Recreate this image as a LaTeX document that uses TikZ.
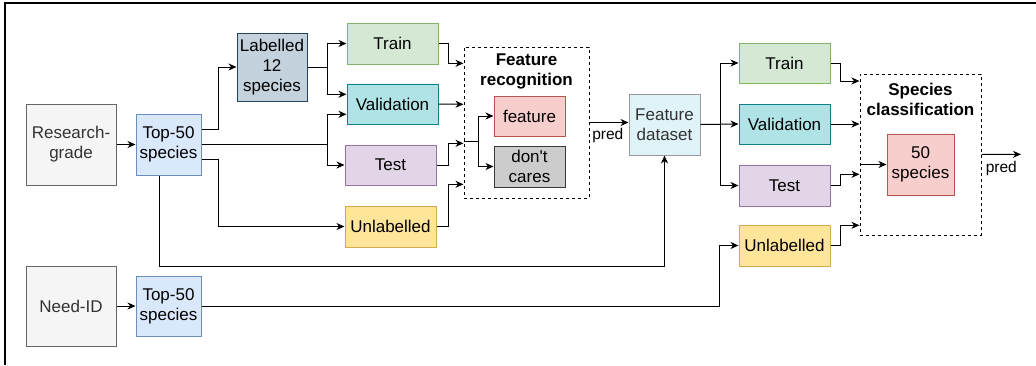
\documentclass[tikz,border=0pt]{standalone}
\usepackage{fontspec}
\setmainfont{Liberation Sans}[Ligatures=TeXOff]
\usetikzlibrary{arrows.meta,calc}
\definecolor{grayF}{HTML}{F5F5F5}\definecolor{grayD}{HTML}{666666}
\definecolor{blueF}{HTML}{DAE8FC}\definecolor{blueD}{HTML}{6C8EBF}
\definecolor{labF}{HTML}{C4D2DE}\definecolor{labD}{HTML}{23445D}
\definecolor{trF}{HTML}{D5E8D4}\definecolor{trD}{HTML}{82B366}
\definecolor{vaF}{HTML}{B0E3E6}\definecolor{vaD}{HTML}{0E8088}
\definecolor{teF}{HTML}{E1D5E7}\definecolor{teD}{HTML}{9673A6}
\definecolor{unF}{HTML}{FFE599}\definecolor{unD}{HTML}{D6AA50}
\definecolor{feF}{HTML}{F8CECC}\definecolor{feD}{HTML}{B85450}
\definecolor{dcF}{HTML}{CCCCCC}\definecolor{dcD}{HTML}{36393D}
\definecolor{fdF}{HTML}{DFF3F8}\definecolor{fdD}{HTML}{999999}
\definecolor{txtG}{HTML}{333333}
\begin{document}
\begin{tikzpicture}[x=1pt,y=-1pt,
  box/.style={draw,line width=1pt,align=center,inner sep=1pt,
    font=\fontsize{17}{20}\selectfont},
  gbox/.style={box,fill=grayF,draw=grayD,text=txtG},
  bbox/.style={box,fill=blueF,draw=blueD},
  lbox/.style={box,fill=labF,draw=labD},
  trbox/.style={box,fill=trF,draw=trD},
  vabox/.style={box,fill=vaF,draw=vaD},
  tebox/.style={box,fill=teF,draw=teD},
  unbox/.style={box,fill=unF,draw=unD},
  febox/.style={box,fill=feF,draw=feD},
  dcbox/.style={box,fill=dcF,draw=dcD},
  fdbox/.style={box,fill=fdF,draw=fdD,text=txtG},
  group/.style={draw,dashed,dash pattern=on 3pt off 3pt,line width=1pt},
  ttl/.style={font=\fontsize{17}{20}\selectfont\bfseries,align=center,inner sep=0pt},
  arr/.style={draw,line width=1pt,-{Stealth[length=8pt,width=7pt,inset=2.5pt]}},
  lbl/.style={font=\fontsize{15.5}{18}\selectfont,inner sep=0pt}
]
\useasboundingbox (0,0) rectangle (1036,365);
\draw[line width=1.5pt] (5,365) -- (5,3) -- (1036,3);

% left column
\node[gbox,minimum width=90pt,minimum height=81pt] (rg) at (71,144.5) {Research-\\grade};
\node[bbox,minimum width=65pt,minimum height=61pt] (top1) at (168.5,144.5) {Top-50\\species};
\node[lbox,minimum width=70pt,minimum height=68pt] (lab) at (272,67) {Labelled\\12\\species};
\node[gbox,minimum width=90pt,minimum height=80pt] (nid) at (71,306) {Need-ID};
\node[bbox,minimum width=65pt,minimum height=60pt] (top2) at (168.5,306) {Top-50\\species};

% first split
\node[trbox,minimum width=91pt,minimum height=41pt] (tr1) at (392.5,43.5) {Train};
\node[vabox,minimum width=91pt,minimum height=40pt] (va1) at (392.5,104) {Validation};
\node[tebox,minimum width=91pt,minimum height=40pt] (te1) at (390.5,165) {Test};
\node[unbox,minimum width=91pt,minimum height=41pt] (un1) at (390.5,226.5) {Unlabelled};

% feature recognition group
\node[group,minimum width=125pt,minimum height=151pt] (fr) at (526.5,122.5) {};
\node[ttl] (frt) at (526.5,71) {Feature\\recognition};
\node[febox,minimum width=71pt,minimum height=40pt] (fe) at (529.5,116) {feature};
\node[dcbox,minimum width=71pt,minimum height=41pt] (dc) at (529.5,166.5) {don't\\cares};

\node[fdbox,minimum width=71pt,minimum height=61pt] (fd) at (664.5,124.5) {Feature\\dataset};

% second split
\node[trbox,minimum width=91pt,minimum height=40pt] (tr2) at (784.5,63) {Train};
\node[vabox,minimum width=91pt,minimum height=40pt] (va2) at (784.5,124) {Validation};
\node[tebox,minimum width=91pt,minimum height=41pt] (te2) at (784.5,185.5) {Test};
\node[unbox,minimum width=91pt,minimum height=41pt] (un2) at (784.5,245.5) {Unlabelled};

\node[group,minimum width=121pt,minimum height=161pt] (sc) at (920.5,154.5) {};
\node[ttl] (sct) at (920.5,99) {Species\\classification};
\node[febox,minimum width=67pt,minimum height=61pt] (s50) at (920.5,164.5) {50\\species};
\coordinate (out) at (1021,154.3);

% connectors
\draw[arr] (rg) -- (top1);
\draw[arr] (nid) -- (top2);
\draw[arr] ([yshift=15.5pt]top1.east) -- ++(16.7,0) |- (lab.west);
\draw[arr] (lab.east) -- ++(20.3,0) |- (tr1.west);
\draw[arr] (lab.east) -- ++(20.3,0) |- ([yshift=9.7pt]va1.west);
\draw[arr] (top1.east) -- ++(126.3,0) |- ([yshift=-10.3pt]va1.west);
\draw[arr] (top1.east) -- ++(126.3,0) |- (te1.west);
\draw[arr] ([yshift=-15pt]top1.east) -- ++(16.7,0) |- (un1.west);
\draw[arr] ([xshift=-8.8pt]top1.south) -- ++(0,90.7) -| (fd.south);
\draw[arr] (top2.east) -| ([xshift=-19.5pt]un2.west) |- (un2.west);

\draw[arr] (tr1.east) -- ++(10.3,0) |- ([yshift=59.2pt]fr.west);
\draw[arr] (va1.east) -- ([yshift=-0.3pt]va1.east -| fr.west);
\draw[arr] (te1.east) -- ++(12.3,0) |- ([yshift=-20.8pt]fr.west);
\draw[arr] (un1.east) -- ++(12.3,0) |- ([yshift=-61.8pt]fr.west);
\draw[arr] ([yshift=-19.2pt]fr.west) -- ++(14.6,0) |- (fe.west);
\draw[arr] ([yshift=-19.2pt]fr.west) -- ++(14.6,0) |- (dc.west);
\draw[arr] (fr.east) -- (fr.east -| fd.west) node[lbl,pos=0.47,yshift=-13.4pt] {pred};

\draw[arr] (fd.east) -- ++(19.7,0) |- (tr2.west);
\draw[arr] (fd.east) -- (va2.west);
\draw[arr] (fd.east) -- ++(19.7,0) |- (te2.west);
\draw[arr] (tr2.east) -- ++(10,0) |- ([yshift=73.5pt]sc.west);
\draw[arr] (va2.east) -- (va2.east -| sc.west);
\draw[arr] (te2.east) -- ++(10,0) |- ([yshift=-19.8pt]sc.west);
\draw[arr] (un2.east) -- ++(10,0) |- ([yshift=-70.8pt]sc.west);
\draw[arr] (s50.west -| sc.west) -- (s50.west);
\draw[arr] (sc.east) -- (out) node[lbl,pos=0.5,yshift=-14.5pt] {pred};
\end{tikzpicture}
\end{document}
